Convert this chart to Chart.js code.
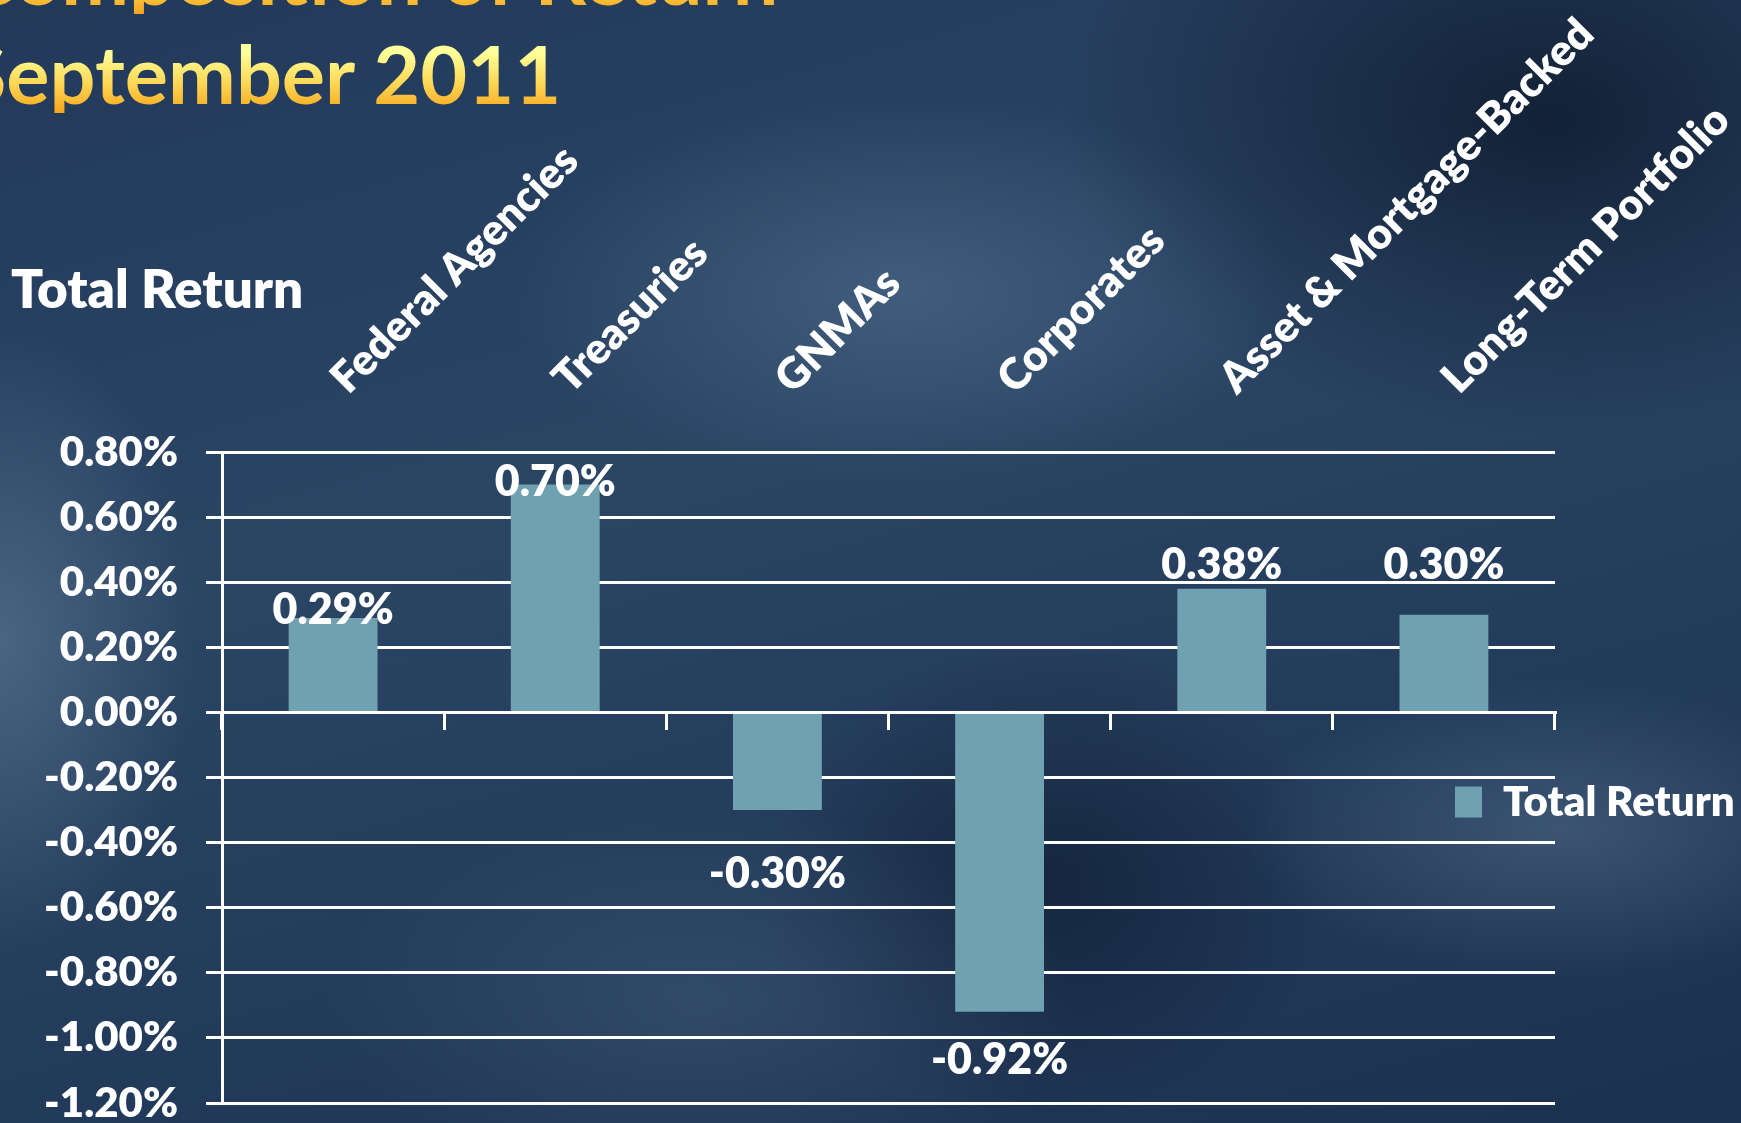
<!DOCTYPE html>
<html><head><meta charset="utf-8">
<script src="https://cdn.jsdelivr.net/npm/chart.js@4.4.0/dist/chart.umd.min.js"></script>
<style>
html,body{margin:0;padding:0;width:1741px;height:1123px;overflow:hidden;}
body{position:relative;font-family:Lato,sans-serif;
background:
 radial-gradient(ellipse 520px 260px at 900px 290px, rgba(95,125,155,0.45), rgba(95,125,155,0) 75%),
 radial-gradient(ellipse 260px 420px at 0px 640px, rgba(100,125,155,0.55), rgba(100,125,155,0) 75%),
 radial-gradient(ellipse 420px 200px at 1560px 830px, rgba(95,120,150,0.45), rgba(95,120,150,0) 75%),
 radial-gradient(ellipse 500px 260px at 700px 1000px, rgba(80,105,135,0.35), rgba(80,105,135,0) 75%),
 radial-gradient(ellipse 650px 420px at 1550px 120px, rgba(5,15,30,0.65), rgba(5,15,30,0) 75%),
 radial-gradient(ellipse 380px 320px at 1050px 880px, rgba(5,15,30,0.45), rgba(5,15,30,0) 75%),
 linear-gradient(165deg, #22395a 0%, #2b4565 40%, #1b3150 100%);}
.t{position:absolute;left:-38px;font:700 81px/1 Lato,sans-serif;white-space:nowrap;
 background:linear-gradient(to bottom,#ffffa0 0%,#ffff9a 25%,#fdd552 65%,#f5a51c 100%);
 -webkit-background-clip:text;background-clip:text;color:transparent;}
.ct{position:absolute;left:11px;top:261px;font:800 53px/1 Lato,sans-serif;color:#fff;white-space:nowrap;}
#wrap{position:absolute;left:0;top:0;width:1741px;height:1123px;}
</style></head>
<body>
<div class="t" style="top:-67px">Composition of Return</div>
<div class="t" style="top:32px">September 2011</div>
<div id="wrap"><canvas id="c" width="1741" height="1123"></canvas></div>
<div class="ct" id="chartTitle"></div>
<script>
// ---- data ----
const categories = ['Federal Agencies', 'Treasuries', 'GNMAs', 'Corporates', 'Asset & Mortgage-Backed', 'Long-Term Portfolio'];
const seriesName = 'Total Return';
const totalReturn = [0.29, 0.70, -0.30, -0.92, 0.38, 0.30];
const yMin = -1.2;
const yMax = 0.8;
const yStep = 0.2;

// ---- styles ----
const barColor = '#6fa1b0';
const labelNudge = [-8, -2, 64, 48, -24, -50];
const fontWeight = 800;

document.getElementById('chartTitle').textContent = seriesName;

const fmt = v => v.toFixed(2) + '%';

const valueLabels = {
  id: 'valueLabels',
  afterDatasetsDraw(chart, args, opts) {
    const ctx = chart.ctx;
    const meta = chart.getDatasetMeta(0);
    const data = chart.data.datasets[0].data;
    ctx.save();
    ctx.font = fontWeight + ' ' + opts.size + 'px Lato';
    ctx.fillStyle = opts.color;
    ctx.textAlign = 'center';
    ctx.textBaseline = 'middle';
    meta.data.forEach((bar, i) => {
      ctx.fillText(fmt(data[i]), bar.x, bar.y + opts.nudge[i]);
    });
    ctx.restore();
  }
};

const legendPlacer = {
  id: 'legendPlacer',
  afterLayout(chart, args, opts) {
    const lg = chart.legend;
    if (!lg) return;
    const w = lg.width, h = lg.height;
    lg.left = opts.left; lg.top = opts.top;
    lg.right = lg.left + w; lg.bottom = lg.top + h;
  }
};

const noPad = s => { s.paddingLeft = 0; s.paddingRight = 0; s.paddingTop = 0; s.paddingBottom = 0; };

Chart.defaults.font.family = 'Lato';
Chart.defaults.color = '#ffffff';

new Chart(document.getElementById('c'), {
  type: 'bar',
  data: {
    labels: categories,
    datasets: [{
      label: seriesName,
      data: totalReturn,
      backgroundColor: barColor,
      borderWidth: 0,
      barPercentage: 0.4,
      categoryPercentage: 1.0,
      xAxisID: 'x',
      yAxisID: 'y'
    }]
  },
  options: {
    responsive: false,
    animation: false,
    devicePixelRatio: 1,
    layout: { padding: { left: 10, right: 186, top: 0, bottom: 20 } },
    plugins: {
      title: { display: false },
      legend: {
        display: true,
        position: 'chartArea',
        align: 'start',
        labels: {
          color: '#ffffff',
          font: { size: 42, weight: fontWeight },
          boxWidth: 27,
          boxHeight: 31,
          padding: 10
        }
      },
      tooltip: { enabled: false },
      valueLabels: { size: 43, color: '#ffffff', nudge: labelNudge },
      legendPlacer: { left: 1445, top: 771 }
    },
    scales: {
      x: {
        type: 'category',
        position: 'top',
        offset: true,
        grid: { display: false, drawTicks: false },
        border: { display: false },
        ticks: {
          color: '#ffffff',
          font: { size: 43, weight: fontWeight },
          minRotation: 45,
          maxRotation: 45,
          autoSkip: false,
          padding: 48,
          labelOffset: 42
        },
        afterFit(s) { s.height = 452; noPad(s); }
      },
      x2: {
        type: 'category',
        labels: categories,
        position: { y: 0 },
        offset: true,
        grid: { offset: true, drawOnChartArea: false, drawTicks: true, tickLength: 16, color: '#ffffff', lineWidth: 3 },
        border: { display: true, color: '#ffffff', width: 3 },
        ticks: { display: false },
        afterFit(s) { s.height = 0; noPad(s); }
      },
      y: {
        min: yMin,
        max: yMax,
        position: 'left',
        grid: { color: '#ffffff', lineWidth: 3, drawTicks: true, tickLength: 16 },
        border: { display: true, color: '#ffffff', width: 3 },
        ticks: {
          stepSize: yStep,
          color: '#ffffff',
          font: { size: 42, weight: fontWeight },
          padding: 28,
          callback: v => fmt(v)
        },
        afterFit(s) { s.width = 212; noPad(s); }
      }
    }
  },
  plugins: [valueLabels, legendPlacer]
});
</script>
</body></html>
